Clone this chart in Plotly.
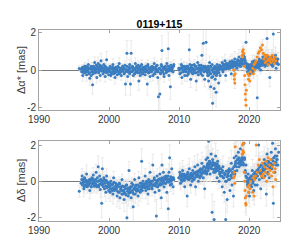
import plotly.graph_objects as go

# ---------------- data ----------------
# main blue series (sessions)
t_blue = [1995.75,
 1996.15,1996.25,1996.3,1996.4,1996.5,1996.6,1996.7,1996.8,1996.9,1996.95,
 1997.05,1997.15,1997.25,1997.35,1997.45,1997.55,1997.65,1997.75,1997.85,1997.95,
 1998.05,1998.15,1998.25,1998.35,1998.45,1998.55,1998.65,1998.75,1998.85,1998.95,
 1999.05,1999.15,1999.25,1999.35,1999.45,1999.55,1999.65,1999.75,1999.85,1999.95,
 2000.05,2000.15,2000.25,2000.35,2000.45,2000.55,2000.65,2000.75,2000.85,2000.95,
 2001.05,2001.15,2001.25,2001.35,2001.45,2001.55,2001.65,2001.75,2001.85,2001.95,
 2002.05,2002.15,2002.25,2002.35,2002.45,2002.55,2002.65,2002.75,2002.85,2002.95,
 2003.05,2003.15,2003.25,2003.35,2003.45,2003.55,2003.65,2003.75,2003.85,2003.95,
 2004.05,2004.15,2004.25,2004.35,2004.45,2004.55,2004.65,2004.75,2004.85,2004.95,
 2005.05,2005.15,2005.25,2005.35,2005.45,2005.55,2005.65,2005.75,2005.85,2005.95,
 2006.05,2006.15,2006.25,2006.35,2006.45,2006.55,2006.65,2006.75,2006.85,2006.95,
 2007.05,2007.15,2007.25,2007.35,2007.45,2007.55,2007.65,2007.75,2007.85,2007.95,
 2008.05,2008.15,2008.25,2008.35,2008.45,2008.55,2008.65,2008.75,2008.85,2008.95,
 2009.05,2009.15,2009.25,
 2009.95,2010.1,2010.2,2010.3,2010.4,2010.5,2010.6,2010.7,2010.8,2010.9,
 2011.05,2011.15,2011.25,2011.35,2011.45,2011.55,2011.65,2011.75,2011.85,2011.95,
 2012.05,2012.15,2012.25,2012.35,2012.45,2012.55,2012.65,2012.75,2012.85,2012.95,
 2013.05,2013.15,2013.25,2013.35,2013.45,2013.55,2013.65,2013.75,2013.85,2013.95,
 2014.0,2014.07,2014.14,2014.21,2014.28,2014.35,2014.42,2014.5,2014.57,2014.64,2014.71,2014.78,2014.85,2014.92,
 2015.0,2015.07,2015.14,2015.21,2015.28,2015.35,2015.42,2015.5,2015.57,2015.64,2015.71,2015.78,2015.85,2015.92,
 2016.05,2016.15,2016.25,2016.35,2016.45,2016.55,2016.65,2016.75,2016.85,2016.95,
 2017.05,2017.15,2017.25,2017.35,2017.45,2017.55,2017.65,2017.75,2017.85,2017.95,
 2018.05,2018.15,2018.25,2018.35,2018.45,2018.55,2018.65,2018.75,2018.85,2018.95,
 2019.05,2019.15,2019.25,2019.35,2019.45,2019.55,2019.65,2019.75,2019.85,2019.95,
 2020.05,2020.15,2020.25,2020.35,2020.45,2020.55,2020.65,2020.75,2020.85,2020.95,
 2021.05,2021.15,2021.25,2021.35,2021.45,2021.55,2021.65,2021.75,2021.85,2021.95,
 2022.05,2022.15,2022.25,2022.35,2022.45,2022.55,2022.65,2022.75,2022.85,2022.95,
 2023.05,2023.15,2023.25,2023.35,2023.45,2023.55,2023.65,2023.75,2023.85,2023.95,
 2024.0,2024.1,2024.2]

ra_blue = [0.08,
 -0.1,-0.3,0.05,-0.15,0.2,-0.05,0.1,-0.25,0.0,0.15,
 0.3,-0.2,-0.45,0.1,-0.3,0.05,-0.8,0.2,-0.1,0.4,
 -0.15,0.25,-0.4,0.1,0.35,-0.05,0.15,-0.3,0.5,0.2,
 0.1,-0.2,0.3,0.0,-0.35,0.15,0.55,-0.1,0.05,-0.25,
 -0.05,0.2,-0.3,0.1,-0.1,0.3,-0.2,0.0,-0.4,0.15,
 0.05,-0.25,0.2,-0.1,0.35,-0.15,0.0,-0.3,0.1,-0.05,
 0.1,-0.2,0.25,-0.75,0.0,0.9,-0.35,0.15,-0.1,0.3,
 -0.75,0.9,-0.1,0.2,-0.3,0.05,-0.2,0.35,-0.05,0.15,
 -0.15,0.25,-0.6,0.1,-0.3,0.0,0.3,-0.2,0.15,-0.1,
 0.1,-0.25,0.2,-0.05,-0.75,0.3,-0.15,0.05,-0.35,0.15,
 -0.1,0.2,-0.3,0.05,0.35,-0.2,0.1,-0.05,0.25,-0.4,
 -1.45,0.1,-1.3,-0.2,0.3,1.05,-0.1,0.15,-0.35,0.05,
 0.2,-0.15,0.35,0.0,1.15,-0.3,0.1,-0.9,0.25,-0.05,
 0.15,-0.1,0.3,
 0.1,-0.2,0.05,0.3,-0.4,0.15,-0.1,0.2,-0.3,0.0,
 0.2,-0.3,0.1,-0.1,1.1,0.3,-0.5,0.05,0.25,-0.2,
 0.0,0.3,-0.15,0.2,-0.6,0.1,0.4,-0.25,0.05,0.15,
 -0.1,0.25,0.8,-0.3,1.45,0.1,-0.5,0.2,1.5,-0.05,
 0.1,-0.3,0.2,-0.6,0.0,0.4,-0.2,-0.9,0.15,-0.4,0.3,-1.8,-0.1,0.05,
 -1.0,0.2,-0.5,0.1,-1.2,-0.2,0.3,-0.1,0.15,-0.7,0.0,0.25,-0.3,0.1,
 0.2,0.4,-0.1,0.3,0.05,0.5,-0.3,0.25,0.1,0.35,
 0.3,0.1,0.45,0.2,-0.2,0.5,0.15,0.35,0.0,0.6,
 0.25,0.4,0.1,0.55,0.3,0.7,0.2,0.45,0.6,0.35,
 0.5,0.8,0.3,0.6,0.4,1.5,0.2,-0.1,0.3,0.0,
 0.1,-0.2,0.3,0.0,0.45,-0.1,0.2,0.5,0.05,0.35,
 0.2,-1.5,0.4,0.1,0.6,0.3,0.0,0.5,0.25,0.7,
 0.4,0.6,0.2,0.8,0.5,1.7,0.3,0.7,0.45,-0.4,
 0.5,0.3,0.7,0.2,1.95,0.6,0.4,0.8,0.1,0.55,
 0.4,0.6,0.3]

ra_blue_err = [0.15,
 0.2,0.3,0.15,0.25,0.2,0.15,0.3,0.35,0.2,0.15,
 0.25,0.2,0.4,0.15,0.3,0.2,0.5,0.2,0.15,0.3,
 0.2,0.25,0.3,0.15,0.35,0.2,0.25,0.3,0.4,0.2,
 0.15,0.2,0.25,0.15,0.3,0.2,0.45,0.2,0.15,0.25,
 0.2,0.15,0.25,0.2,0.15,0.3,0.2,0.15,0.35,0.2,
 0.15,0.25,0.2,0.15,0.3,0.2,0.15,0.25,0.2,0.15,
 0.2,0.15,0.25,0.6,0.2,0.7,0.3,0.2,0.15,0.25,
 0.6,0.7,0.2,0.25,0.3,0.15,0.2,0.3,0.15,0.2,
 0.2,0.25,0.5,0.2,0.3,0.15,0.25,0.2,0.15,0.2,
 0.15,0.25,0.2,0.15,0.6,0.25,0.2,0.15,0.3,0.2,
 0.2,0.25,0.3,0.15,0.3,0.2,0.15,0.2,0.25,0.35,
 0.9,0.2,0.8,0.25,0.3,0.8,0.2,0.15,0.3,0.2,
 0.2,0.15,0.3,0.2,0.9,0.25,0.15,0.7,0.2,0.15,
 0.2,0.15,0.25,
 0.25,0.2,0.15,0.3,0.35,0.2,0.15,0.25,0.3,0.2,
 0.2,0.3,0.15,0.2,0.8,0.25,0.45,0.15,0.2,0.25,
 0.2,0.25,0.15,0.2,0.5,0.15,0.35,0.25,0.15,0.2,
 0.2,0.25,0.6,0.3,0.9,0.15,0.4,0.2,1.0,0.15,
 0.15,0.3,0.2,0.45,0.15,0.35,0.2,0.6,0.15,0.35,0.25,1.0,0.2,0.15,
 0.7,0.2,0.4,0.15,0.8,0.2,0.25,0.15,0.2,0.5,0.15,0.2,0.3,0.15,
 0.2,0.3,0.15,0.25,0.2,0.35,0.3,0.2,0.15,0.25,
 0.25,0.2,0.3,0.15,0.3,0.35,0.2,0.25,0.2,0.4,
 0.2,0.25,0.3,0.35,0.2,0.4,0.25,0.3,0.35,0.2,
 0.3,0.45,0.25,0.35,0.2,0.9,0.3,0.25,0.2,0.3,
 0.2,0.3,0.25,0.2,0.35,0.25,0.2,0.3,0.15,0.25,
 0.25,1.2,0.3,0.2,0.4,0.25,0.2,0.35,0.2,0.45,
 0.3,0.35,0.2,0.45,0.3,1.0,0.25,0.4,0.3,0.5,
 0.3,0.25,0.4,0.2,1.2,0.35,0.3,0.45,0.2,0.35,
 0.3,0.35,0.25]

dec_blue = [-0.55,
 0.3,-0.1,0.1,-0.4,0.2,-0.2,0.0,0.4,-0.3,-0.05,
 -0.2,0.0,-0.5,0.1,-0.3,0.2,-0.1,0.35,-0.25,0.05,
 -0.1,0.5,-0.3,0.0,0.8,-0.2,0.3,-0.45,0.1,-1.2,
 0.7,-0.15,0.2,-0.4,0.05,-0.6,0.3,-0.3,-0.1,-0.5,
 -0.3,-0.6,0.0,-0.4,-0.2,-0.7,0.2,-0.5,-0.35,-0.1,
 -0.4,-0.8,-0.2,-0.6,-0.1,-0.9,-0.3,-0.5,0.1,-0.7,
 -0.5,-1.0,-0.3,-0.7,-0.2,-2.0,-0.4,-0.8,0.6,-0.6,
 -0.3,-0.9,-0.1,-0.6,-1.4,-0.4,0.1,-0.7,-0.2,-0.5,
 -0.4,-0.8,0.2,-0.3,-0.6,-0.1,1.1,-0.5,0.0,-0.3,
 -0.2,0.3,-0.5,0.0,-0.3,-0.7,0.1,-0.4,0.5,-0.15,
 0.0,-0.4,0.9,-0.2,0.2,-0.6,-0.1,-1.9,0.3,-0.3,
 0.1,-0.5,0.4,-0.2,-0.9,0.9,0.0,0.5,-0.3,0.2,
 -0.1,0.3,-0.6,0.1,-1.5,0.5,1.3,-0.2,0.0,0.7,
 0.2,-0.3,0.1,
 0.2,0.5,-0.1,0.3,0.0,0.6,0.1,0.4,-0.3,0.2,
 0.3,-0.8,0.5,0.1,0.7,0.2,-0.2,0.4,0.0,0.6,
 0.4,0.1,0.8,-0.3,0.5,0.3,0.9,0.0,0.6,0.2,
 0.7,0.3,1.0,0.5,0.2,0.8,-0.4,0.6,1.2,0.4,
 0.9,1.3,0.6,2.2,0.8,1.1,0.4,1.0,1.5,0.7,-1.7,1.2,0.9,0.5,
 -2.1,1.0,0.5,1.4,0.7,0.9,0.2,1.1,0.6,0.8,0.0,0.4,0.7,0.3,
 0.5,-0.3,0.8,0.2,-0.6,0.4,-2.1,0.0,-1.0,0.6,
 0.1,0.7,-0.5,0.3,1.0,-0.2,0.5,-0.8,1.3,0.4,
 1.0,1.4,0.6,1.2,1.6,0.8,1.1,1.8,0.9,1.3,
 1.5,1.0,2.1,1.3,0.5,0.9,0.2,-0.2,0.4,-0.6,
 -0.8,0.1,0.3,-0.3,0.6,0.0,-0.5,0.4,-0.2,0.2,
 0.3,-0.2,0.6,2.0,0.1,0.8,-0.4,0.5,0.2,1.0,
 0.6,1.2,0.3,0.9,-0.7,1.5,0.4,1.1,0.2,0.8,
 1.0,1.6,0.7,2.1,-1.2,1.3,0.5,1.8,0.9,1.4,
 1.2,0.9,1.6]

dec_blue_err = [0.3,
 0.4,0.3,0.25,0.45,0.35,0.3,0.25,0.5,0.35,0.3,
 0.3,0.25,0.45,0.3,0.35,0.3,0.25,0.4,0.35,0.3,
 0.3,0.45,0.35,0.25,0.6,0.3,0.4,0.45,0.3,0.8,
 0.6,0.3,0.35,0.45,0.25,0.5,0.4,0.35,0.3,0.45,
 0.35,0.5,0.3,0.4,0.3,0.55,0.35,0.45,0.35,0.3,
 0.4,0.6,0.3,0.5,0.35,0.6,0.35,0.45,0.3,0.5,
 0.45,0.65,0.35,0.5,0.3,1.0,0.4,0.55,0.5,0.45,
 0.35,0.6,0.3,0.5,0.8,0.4,0.35,0.5,0.3,0.45,
 0.4,0.55,0.35,0.3,0.5,0.3,0.7,0.45,0.3,0.35,
 0.3,0.4,0.45,0.3,0.35,0.55,0.3,0.4,0.5,0.3,
 0.3,0.4,0.6,0.3,0.35,0.5,0.3,0.9,0.4,0.35,
 0.3,0.45,0.4,0.3,0.6,0.6,0.3,0.45,0.35,0.3,
 0.3,0.4,0.5,0.3,0.8,0.45,0.7,0.35,0.3,0.5,
 0.35,0.4,0.3,
 0.4,0.5,0.35,0.4,0.3,0.55,0.35,0.45,0.4,0.35,
 0.4,0.6,0.45,0.35,0.55,0.4,0.45,0.4,0.35,0.5,
 0.45,0.35,0.6,0.45,0.5,0.4,0.6,0.4,0.5,0.35,
 0.5,0.4,0.6,0.45,0.4,0.55,0.5,0.45,0.7,0.4,
 0.5,0.7,0.4,0.9,0.45,0.6,0.4,0.55,0.7,0.45,1.0,0.6,0.5,0.4,
 1.0,0.55,0.4,0.7,0.45,0.5,0.35,0.6,0.45,0.5,0.4,0.45,0.5,0.35,
 0.45,0.5,0.6,0.4,0.55,0.45,1.0,0.4,0.7,0.5,
 0.45,0.6,0.5,0.4,0.7,0.45,0.5,0.6,0.8,0.45,
 0.6,0.8,0.5,0.7,0.9,0.55,0.65,1.0,0.6,0.75,
 0.8,0.6,1.0,0.7,0.5,0.6,0.45,0.5,0.55,0.6,
 0.6,0.45,0.5,0.55,0.6,0.45,0.5,0.55,0.45,0.5,
 0.5,0.6,0.55,0.9,0.45,0.6,0.55,0.5,0.45,0.65,
 0.55,0.7,0.5,0.6,0.65,0.8,0.5,0.7,0.45,0.6,
 0.6,0.8,0.55,0.9,0.8,0.7,0.5,0.85,0.6,0.7,
 0.6,0.55,0.8]

# additional blue sessions (dense core of the band)
t_blue2 = [
 1996.0,1996.1,1996.2,1996.33,1996.44,1996.52,1996.63,1996.71,1996.82,1996.93,
 1997.0,1997.1,1997.2,1997.33,1997.44,1997.52,1997.63,1997.71,1997.82,1997.93,
 1998.0,1998.1,1998.2,1998.33,1998.44,1998.52,1998.63,1998.71,1998.82,1998.93,
 1999.0,1999.1,1999.2,1999.33,1999.44,1999.52,1999.63,1999.71,1999.82,1999.93,
 2000.0,2000.1,2000.2,2000.33,2000.44,2000.52,2000.63,2000.71,2000.82,2000.93,
 2001.0,2001.1,2001.2,2001.33,2001.44,2001.52,2001.63,2001.71,2001.82,2001.93,
 2002.0,2002.1,2002.2,2002.33,2002.44,2002.52,2002.63,2002.71,2002.82,2002.93,
 2003.0,2003.1,2003.2,2003.33,2003.44,2003.52,2003.63,2003.71,2003.82,2003.93,
 2004.0,2004.1,2004.2,2004.33,2004.44,2004.52,2004.63,2004.71,2004.82,2004.93,
 2005.0,2005.1,2005.2,2005.33,2005.44,2005.52,2005.63,2005.71,2005.82,2005.93,
 2006.0,2006.1,2006.2,2006.33,2006.44,2006.52,2006.63,2006.71,2006.82,2006.93,
 2007.0,2007.1,2007.2,2007.33,2007.44,2007.52,2007.63,2007.71,2007.82,2007.93,
 2008.0,2008.1,2008.2,2008.33,2008.44,2008.52,2008.63,2008.71,2008.82,2008.93,
 2009.0,2009.2,
 2010.0,2010.15,2010.25,2010.36,2010.44,2010.55,2010.66,2010.74,2010.85,2010.95,
 2011.0,2011.1,2011.2,2011.33,2011.44,2011.52,2011.63,2011.71,2011.82,2011.93,
 2012.0,2012.1,2012.2,2012.33,2012.44,2012.52,2012.63,2012.71,2012.82,2012.93,
 2013.0,2013.1,2013.2,2013.33,2013.44,2013.52,2013.63,2013.71,2013.82,2013.93,
 2014.03,2014.1,2014.18,2014.25,2014.32,2014.46,2014.54,2014.68,2014.82,2014.96,
 2015.03,2015.1,2015.18,2015.25,2015.32,2015.46,2015.54,2015.68,2015.82,2015.96,
 2016.0,2016.1,2016.2,2016.33,2016.44,2016.52,2016.63,2016.71,2016.82,2016.93,
 2017.0,2017.1,2017.2,2017.33,2017.44,2017.52,2017.63,2017.71,2017.82,2017.93,
 2018.0,2018.1,2018.2,2018.33,2018.44,2018.52,2018.63,2018.71,2018.82,2018.93,
 2019.0,2019.1,2019.2,2019.33,2019.44,2019.52,2019.63,2019.71,2019.82,2019.93,
 2020.0,2020.1,2020.2,2020.33,2020.44,2020.52,2020.63,2020.71,2020.82,2020.93,
 2021.0,2021.1,2021.2,2021.33,2021.44,2021.52,2021.63,2021.71,2021.82,2021.93,
 2022.0,2022.1,2022.2,2022.33,2022.44,2022.52,2022.63,2022.71,2022.82,2022.93,
 2023.0,2023.1,2023.2,2023.33,2023.44,2023.52,2023.63,2023.71,2023.82,2023.93]

ra_blue2 = [
 0.05,-0.1,0.15,-0.05,0.1,-0.15,0.0,0.2,-0.1,0.05,
 -0.05,0.1,-0.15,0.05,0.2,-0.1,0.0,-0.2,0.15,0.05,
 0.1,0.0,-0.1,0.2,0.05,-0.15,0.1,0.25,0.0,-0.05,
 0.15,-0.05,0.1,-0.1,0.2,0.05,-0.15,0.0,0.1,-0.05,
 0.0,-0.1,0.1,-0.2,0.05,0.15,-0.05,0.1,-0.15,0.0,
 -0.1,0.05,-0.05,0.15,-0.2,0.0,0.1,-0.1,0.05,0.2,
 0.0,0.1,-0.15,0.05,-0.05,0.2,-0.1,0.0,0.15,-0.2,
 0.05,-0.1,0.15,-0.05,0.0,0.1,-0.2,0.05,-0.1,0.2,
 -0.05,0.1,0.0,-0.15,0.2,-0.1,0.05,0.0,-0.2,0.1,
 0.0,0.15,-0.1,0.05,-0.05,0.2,-0.15,0.1,0.0,-0.1,
 0.1,-0.05,0.0,0.15,-0.2,0.05,-0.1,0.2,0.0,-0.05,
 -0.1,0.05,0.1,-0.15,0.0,0.2,-0.05,0.1,-0.2,0.05,
 0.15,0.0,-0.1,0.05,0.2,-0.05,0.1,0.0,0.25,0.1,
 0.05,0.2,
 0.0,0.1,-0.15,0.05,0.2,-0.1,0.0,0.15,-0.05,0.1,
 -0.1,0.05,0.2,-0.2,0.0,0.1,-0.05,0.15,-0.15,0.05,
 0.1,-0.05,0.0,0.2,-0.15,0.05,0.1,-0.1,0.25,0.0,
 0.05,-0.2,0.1,0.0,0.2,-0.1,0.15,-0.05,0.0,0.1,
 -0.15,0.1,-0.3,0.05,-0.1,0.2,-0.2,0.0,-0.35,0.1,
 -0.2,0.05,-0.1,0.15,-0.3,0.0,0.1,-0.15,0.2,0.05,
 0.1,0.2,0.0,0.3,0.15,0.25,0.05,0.35,0.2,0.1,
 0.2,0.3,0.1,0.4,0.25,0.15,0.35,0.2,0.45,0.3,
 0.3,0.2,0.45,0.35,0.25,0.5,0.3,0.4,0.2,0.55,
 0.4,0.6,0.3,0.7,0.5,0.2,0.35,0.1,0.25,0.15,
 0.2,0.05,0.3,0.15,0.25,0.0,0.35,0.2,0.1,0.3,
 0.3,0.15,0.4,0.25,0.5,0.2,0.35,0.45,0.3,0.55,
 0.4,0.5,0.3,0.6,0.35,0.55,0.25,0.45,0.6,0.4,
 0.5,0.35,0.6,0.45,0.3,0.55,0.4,0.65,0.5,0.35]

ra_blue2_err = [
 0.12,0.18,0.15,0.1,0.2,0.14,0.16,0.12,0.18,0.15,
 0.12,0.18,0.15,0.1,0.2,0.14,0.16,0.12,0.18,0.15,
 0.12,0.18,0.15,0.1,0.2,0.14,0.16,0.12,0.18,0.15,
 0.12,0.18,0.15,0.1,0.2,0.14,0.16,0.12,0.18,0.15,
 0.12,0.18,0.15,0.1,0.2,0.14,0.16,0.12,0.18,0.15,
 0.12,0.18,0.15,0.1,0.2,0.14,0.16,0.12,0.18,0.15,
 0.12,0.18,0.15,0.1,0.2,0.14,0.16,0.12,0.18,0.15,
 0.12,0.18,0.15,0.1,0.2,0.14,0.16,0.12,0.18,0.15,
 0.12,0.18,0.15,0.1,0.2,0.14,0.16,0.12,0.18,0.15,
 0.12,0.18,0.15,0.1,0.2,0.14,0.16,0.12,0.18,0.15,
 0.12,0.18,0.15,0.1,0.2,0.14,0.16,0.12,0.18,0.15,
 0.12,0.18,0.15,0.1,0.2,0.14,0.16,0.12,0.18,0.15,
 0.12,0.18,0.15,0.1,0.2,0.14,0.16,0.12,0.18,0.15,
 0.15,0.12,
 0.12,0.18,0.15,0.1,0.2,0.14,0.16,0.12,0.18,0.15,
 0.12,0.18,0.15,0.1,0.2,0.14,0.16,0.12,0.18,0.15,
 0.12,0.18,0.15,0.1,0.2,0.14,0.16,0.12,0.18,0.15,
 0.12,0.18,0.15,0.1,0.2,0.14,0.16,0.12,0.18,0.15,
 0.12,0.18,0.15,0.1,0.2,0.14,0.16,0.12,0.18,0.15,
 0.12,0.18,0.15,0.1,0.2,0.14,0.16,0.12,0.18,0.15,
 0.15,0.2,0.18,0.14,0.22,0.16,0.2,0.15,0.2,0.18,
 0.15,0.2,0.18,0.14,0.22,0.16,0.2,0.15,0.2,0.18,
 0.15,0.2,0.18,0.14,0.22,0.16,0.2,0.15,0.2,0.18,
 0.15,0.2,0.18,0.14,0.22,0.16,0.2,0.15,0.2,0.18,
 0.15,0.2,0.18,0.14,0.22,0.16,0.2,0.15,0.2,0.18,
 0.15,0.2,0.18,0.14,0.22,0.16,0.2,0.15,0.2,0.18,
 0.15,0.2,0.18,0.14,0.22,0.16,0.2,0.15,0.2,0.18,
 0.15,0.2,0.18,0.14,0.22,0.16,0.2,0.15,0.2,0.18]

dec_blue2 = [
 -0.1,0.1,-0.2,0.0,-0.3,0.15,-0.05,-0.25,0.05,-0.15,
 0.0,-0.2,0.1,-0.1,-0.3,0.05,-0.15,0.15,-0.05,-0.25,
 -0.1,0.1,-0.2,0.2,0.0,-0.3,0.05,-0.15,0.1,-0.05,
 -0.2,0.0,-0.3,0.1,-0.1,-0.25,0.05,-0.35,-0.05,-0.2,
 -0.3,-0.1,-0.4,-0.2,-0.5,-0.15,-0.35,-0.05,-0.45,-0.25,
 -0.4,-0.2,-0.55,-0.3,-0.6,-0.15,-0.45,-0.35,-0.7,-0.25,
 -0.5,-0.3,-0.6,-0.4,-0.75,-0.2,-0.55,-0.35,-0.65,-0.45,
 -0.4,-0.6,-0.3,-0.5,-0.2,-0.7,-0.35,-0.45,-0.25,-0.55,
 -0.4,-0.2,-0.5,-0.3,-0.1,-0.45,-0.25,-0.35,-0.15,-0.3,
 -0.2,-0.35,-0.1,-0.3,-0.15,-0.4,-0.05,-0.25,-0.2,0.0,
 -0.1,-0.3,0.0,-0.2,0.1,-0.15,-0.25,0.05,-0.1,-0.3,
 0.0,-0.2,0.15,-0.1,0.05,0.2,-0.15,0.1,-0.05,0.25,
 0.1,-0.1,0.2,0.0,0.3,-0.05,0.15,0.05,0.25,-0.15,
 0.1,0.2,
 0.2,0.35,0.1,0.25,0.4,0.15,0.3,0.05,0.2,0.35,
 0.3,0.15,0.4,0.25,0.1,0.35,0.2,0.45,0.3,0.15,
 0.3,0.45,0.2,0.5,0.35,0.25,0.55,0.4,0.3,0.6,
 0.5,0.65,0.4,0.7,0.55,0.8,0.45,0.6,0.75,0.5,
 0.8,1.0,0.7,0.9,1.1,0.75,0.95,0.85,1.05,0.65,
 0.9,0.7,1.0,0.8,0.6,0.95,0.75,0.85,0.5,0.7,
 0.5,0.3,0.6,0.2,0.45,0.35,0.0,0.55,0.25,0.4,
 0.3,0.5,0.1,0.6,0.35,0.2,0.7,0.45,0.8,0.55,
 0.9,1.1,0.8,1.2,1.0,1.3,0.95,1.15,1.05,1.25,
 1.1,1.3,0.9,1.2,0.6,0.3,0.0,0.2,-0.1,0.1,
 0.0,0.2,-0.2,0.3,0.1,-0.1,0.4,0.2,0.5,0.3,
 0.4,0.6,0.3,0.7,0.5,0.8,0.4,0.9,0.6,0.7,
 0.8,0.6,1.0,0.7,0.9,1.1,0.5,0.85,1.0,0.75,
 1.0,0.8,1.2,0.9,1.1,1.3,0.95,1.4,1.05,1.2]

dec_blue2_err = [
 0.25,0.3,0.22,0.28,0.35,0.24,0.3,0.26,0.32,0.27,
 0.25,0.3,0.22,0.28,0.35,0.24,0.3,0.26,0.32,0.27,
 0.25,0.3,0.22,0.28,0.35,0.24,0.3,0.26,0.32,0.27,
 0.25,0.3,0.22,0.28,0.35,0.24,0.3,0.26,0.32,0.27,
 0.25,0.3,0.22,0.28,0.35,0.24,0.3,0.26,0.32,0.27,
 0.25,0.3,0.22,0.28,0.35,0.24,0.3,0.26,0.32,0.27,
 0.25,0.3,0.22,0.28,0.35,0.24,0.3,0.26,0.32,0.27,
 0.25,0.3,0.22,0.28,0.35,0.24,0.3,0.26,0.32,0.27,
 0.25,0.3,0.22,0.28,0.35,0.24,0.3,0.26,0.32,0.27,
 0.25,0.3,0.22,0.28,0.35,0.24,0.3,0.26,0.32,0.27,
 0.25,0.3,0.22,0.28,0.35,0.24,0.3,0.26,0.32,0.27,
 0.25,0.3,0.22,0.28,0.35,0.24,0.3,0.26,0.32,0.27,
 0.25,0.3,0.22,0.28,0.35,0.24,0.3,0.26,0.32,0.27,
 0.28,0.25,
 0.3,0.35,0.28,0.32,0.4,0.3,0.35,0.3,0.38,0.32,
 0.3,0.35,0.28,0.32,0.4,0.3,0.35,0.3,0.38,0.32,
 0.3,0.35,0.28,0.32,0.4,0.3,0.35,0.3,0.38,0.32,
 0.3,0.35,0.28,0.32,0.4,0.3,0.35,0.3,0.38,0.32,
 0.3,0.35,0.28,0.32,0.4,0.3,0.35,0.3,0.38,0.32,
 0.3,0.35,0.28,0.32,0.4,0.3,0.35,0.3,0.38,0.32,
 0.35,0.4,0.32,0.38,0.45,0.35,0.4,0.36,0.42,0.37,
 0.35,0.4,0.32,0.38,0.45,0.35,0.4,0.36,0.42,0.37,
 0.4,0.45,0.38,0.42,0.5,0.4,0.45,0.4,0.48,0.42,
 0.4,0.45,0.38,0.42,0.5,0.4,0.45,0.4,0.48,0.42,
 0.4,0.45,0.38,0.42,0.5,0.4,0.45,0.4,0.48,0.42,
 0.4,0.45,0.38,0.42,0.5,0.4,0.45,0.4,0.48,0.42,
 0.4,0.45,0.38,0.42,0.5,0.4,0.45,0.4,0.48,0.42,
 0.4,0.45,0.38,0.42,0.5,0.4,0.45,0.4,0.48,0.42]

# orange series
t_orange = [2017.8,2017.85,2017.9,2017.95,2018.0,
 2019.0,2019.05,2019.1,2019.15,2019.2,
 2019.3,2019.35,2019.4,2019.45,2019.5,2019.55,2019.6,
 2019.8,2019.9,2020.0,2020.1,2020.2,
 2020.5,2020.6,2020.7,2020.8,2020.9,
 2021.0,2021.15,2021.3,2021.45,2021.6,2021.75,2021.9,2022.0,
 2022.1,2022.2,2022.3,2022.4,2022.5,2022.6,2022.7,2022.8,2022.9,
 2023.0,2023.1,2023.2,2023.3,2023.4,2023.5,2023.6,2023.7,2023.8]

ra_orange = [0.0,-0.3,-0.5,-0.7,-0.2,
 0.8,1.0,0.7,1.1,0.9,
 0.2,-0.3,-0.8,-1.3,-1.6,-1.9,-1.1,
 -0.2,-0.5,-0.3,-0.6,-0.1,
 0.1,-0.2,0.3,0.0,0.4,
 0.5,0.7,0.9,1.0,1.2,1.1,1.35,0.9,
 0.6,0.8,0.4,0.7,0.5,0.8,0.3,0.6,0.5,
 0.7,0.4,0.6,0.8,0.5,0.6,0.35,0.7,0.5]

ra_orange_err = [0.25,0.3,0.25,0.3,0.2,
 0.3,0.25,0.3,0.35,0.25,
 0.3,0.25,0.3,0.35,0.3,0.4,0.3,
 0.25,0.3,0.2,0.3,0.25,
 0.2,0.25,0.3,0.2,0.25,
 0.25,0.3,0.2,0.25,0.3,0.25,0.3,0.2,
 0.25,0.2,0.3,0.25,0.2,0.3,0.25,0.2,0.3,
 0.25,0.2,0.3,0.25,0.2,0.3,0.25,0.2,0.3]

dec_orange = [0.2,0.5,0.3,-0.1,1.9,
 1.5,2.0,1.7,2.1,1.6,
 0.5,0.0,-0.5,-0.9,-1.2,-1.3,-0.8,
 -0.3,-0.6,-0.2,-0.4,0.0,
 -0.6,0.2,-0.8,0.1,0.3,
 2.0,0.5,0.9,1.2,0.6,0.3,1.0,0.4,
 0.2,0.8,0.5,1.1,0.0,0.7,1.3,0.4,0.9,
 0.6,1.2,0.3,0.8,-0.3,0.5,1.0,0.7,0.1]

dec_orange_err = [0.4,0.5,0.45,0.4,0.6,
 0.5,0.6,0.45,0.55,0.5,
 0.45,0.4,0.5,0.45,0.5,0.55,0.45,
 0.4,0.5,0.45,0.4,0.5,
 0.45,0.4,0.5,0.45,0.4,
 0.6,0.45,0.5,0.4,0.45,0.5,0.4,0.45,
 0.5,0.45,0.4,0.5,0.45,0.4,0.5,0.45,0.4,
 0.5,0.45,0.4,0.5,0.45,0.4,0.5,0.45,0.4]

x_ticks = [1990, 2000, 2010, 2020]
y_ticks = [-2, 0, 2]
y_ticktext = ["-2", "0", "2"]
title_text = "0119+115"
ylabel_top = "Δα* [mas]"
ylabel_bot = "Δδ [mas]"

# ---------------- styling ----------------
BLUE = "#3a7dc0"
ORANGE = "#f98a1c"
ERR = "#e4e4e4"
AXC = "#a3a3a3"
TXT = "#333333"
FONT = "Liberation Sans"

fig = go.Figure()

def err_trace(t, v, e, xa, ya):
    fig.add_trace(go.Scatter(
        x=t, y=v, mode="markers",
        marker=dict(size=1, color="rgba(0,0,0,0)"),
        error_y=dict(type="data", array=e, visible=True, color=ERR,
                     thickness=0.8, width=1.5),
        xaxis=xa, yaxis=ya, hoverinfo="skip", showlegend=False))

def pts_trace(t, v, color, xa, ya):
    fig.add_trace(go.Scatter(
        x=t, y=v, mode="markers",
        marker=dict(size=3, color=color, line=dict(width=0)),
        xaxis=xa, yaxis=ya, showlegend=False))

err_trace(t_blue, ra_blue, ra_blue_err, "x", "y")
err_trace(t_blue2, ra_blue2, ra_blue2_err, "x", "y")
err_trace(t_orange, ra_orange, ra_orange_err, "x", "y")
err_trace(t_blue, dec_blue, dec_blue_err, "x2", "y2")
err_trace(t_blue2, dec_blue2, dec_blue2_err, "x2", "y2")
err_trace(t_orange, dec_orange, dec_orange_err, "x2", "y2")
pts_trace(t_blue2, ra_blue2, BLUE, "x", "y")
pts_trace(t_blue, ra_blue, BLUE, "x", "y")
pts_trace(t_orange, ra_orange, ORANGE, "x", "y")
pts_trace(t_blue2, dec_blue2, BLUE, "x2", "y2")
pts_trace(t_blue, dec_blue, BLUE, "x2", "y2")
pts_trace(t_orange, dec_orange, ORANGE, "x2", "y2")

xcommon = dict(range=[1990, 2024.4], tickvals=x_ticks, ticks="inside", ticklen=3,
               tickcolor=AXC, showline=True, linecolor=AXC, linewidth=1,
               mirror="ticks", showgrid=False, zeroline=False,
               tickfont=dict(size=10, color=TXT, family=FONT))
ycommon = dict(tickvals=y_ticks, ticktext=y_ticktext, ticks="inside", ticklen=3,
               tickcolor=AXC, showline=True, linecolor=AXC, linewidth=1,
               mirror="ticks", showgrid=False, zeroline=True,
               zerolinecolor="#7a7a7a", zerolinewidth=1,
               tickfont=dict(size=10, color=TXT, family=FONT))

H = 244
mt, mb = 22, 31
ph = H - mt - mb
top_bottom = (H - mb - 102) / ph
bot_top = (H - mb - 133) / ph

fig.update_layout(
    width=293, height=244,
    margin=dict(l=31, r=21, t=mt, b=mb),
    paper_bgcolor="white", plot_bgcolor="white",
    font=dict(family=FONT, color=TXT),
    xaxis=dict(domain=[0, 1], anchor="y", **xcommon),
    yaxis=dict(domain=[top_bottom, 1], anchor="x", range=[-2.16, 2.16], **ycommon),
    xaxis2=dict(domain=[0, 1], anchor="y2", **xcommon),
    yaxis2=dict(domain=[0, bot_top], anchor="x2", range=[-2.18, 2.22], **ycommon),
    title=dict(text="<b>" + title_text + "</b>", x=0.5, xref="paper",
               y=1 - 16 / H, yref="container", yanchor="middle", xanchor="center",
               font=dict(size=10.5, color="#000000", family=FONT)),
    annotations=[
        dict(text=ylabel_top, textangle=-90, xref="paper", yref="paper",
             x=(13 - 31) / 241, y=(top_bottom + 1) / 2, xanchor="center", yanchor="middle",
             showarrow=False, font=dict(size=11, color="#404040", family=FONT)),
        dict(text=ylabel_bot, textangle=-90, xref="paper", yref="paper",
             x=(13 - 31) / 241, y=bot_top / 2, xanchor="center", yanchor="middle",
             showarrow=False, font=dict(size=11, color="#404040", family=FONT)),
    ],
)

fig.write_html("out.html")
